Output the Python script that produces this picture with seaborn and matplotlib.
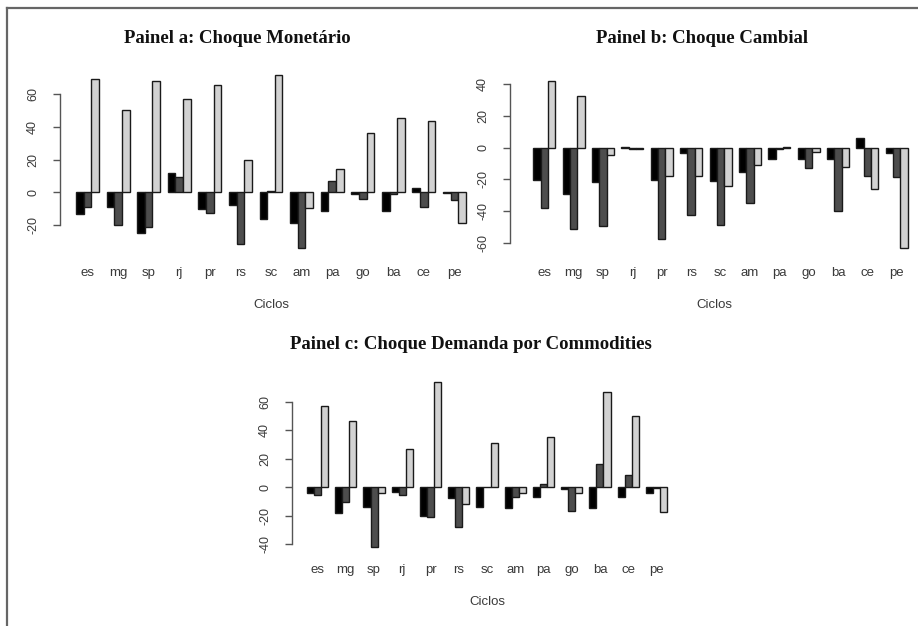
import matplotlib
matplotlib.use("Agg")
import matplotlib.pyplot as plt
import seaborn as sns
import pandas as pd
from matplotlib.lines import Line2D

estados = ["es", "mg", "sp", "rj", "pr", "rs", "sc", "am", "pa", "go", "ba", "ce", "pe"]
series = ["s1", "s2", "s3"]

# Painel a: Choque Monetário
a_s1 = [-13.3, -8.8, -24.7, 11.8, -10.2, -7.5, -16.3, -18.6, -11.4, -1.0, -11.4, 2.7, -0.7]
a_s2 = [-8.8, -20.0, -21.4, 9.2, -12.9, -31.6, 0.8, -34.3, 7.1, -4.0, -1.0, -8.8, -4.9]
a_s3 = [69.4, 50.4, 68.2, 57.3, 65.5, 20.0, 72.0, -9.4, 14.3, 36.0, 45.5, 43.5, -19.0]

# Painel b: Choque Cambial
b_s1 = [-20.4, -29.5, -21.7, 0.5, -20.4, -3.6, -20.8, -15.2, -7.2, -6.9, -7.4, 6.1, -3.2]
b_s2 = [-37.9, -51.6, -49.5, -1.0, -57.3, -42.7, -49.0, -35.2, -1.0, -13.0, -40.0, -17.7, -18.3]
b_s3 = [42.3, 32.8, -4.6, -1.0, -18.1, -18.1, -24.0, -10.7, 0.3, -2.9, -12.4, -26.3, -63.2]

# Painel c: Choque Demanda por Commodities
c_s1 = [-4.2, -18.2, -13.8, -3.5, -20.3, -7.2, -13.8, -14.7, -6.5, -1.5, -14.3, -6.5, -4.0]
c_s2 = [-5.1, -10.0, -41.6, -5.6, -20.6, -27.6, 0.5, -6.5, 2.3, -16.4, 16.1, 8.6, -0.3]
c_s3 = [56.8, 46.7, -3.7, 26.9, 73.6, -11.7, 31.3, -3.7, 35.5, -3.7, 66.6, 50.0, -17.0]

titulos = ["Painel a: Choque Monetário", "Painel b: Choque Cambial",
           "Painel c: Choque Demanda por Commodities"]
yticks_a = [-20, 0, 20, 40, 60]
yticks_b = [-60, -40, -20, 0, 20, 40]
yticks_c = [-40, -20, 0, 20, 40, 60]

cores = ["#000000", "#4d4d4d", "#d2d2d2"]

W, H = 918, 626
fig = plt.figure(figsize=(W / 100, H / 100), dpi=100)
fig.patch.set_facecolor("white")


def rect(left, right, top, bottom):
    return [left / W, 1 - bottom / H, (right - left) / W, (bottom - top) / H]


def long_df(s1, s2, s3):
    rows = []
    for nome, vals in zip(series, [s1, s2, s3]):
        for e, v in zip(estados, vals):
            rows.append({"estado": e, "serie": nome, "valor": v})
    return pd.DataFrame(rows)


txt_col = "#3a3a3a"
tick_font = "Liberation Sans"


def painel(pos, df, xlim, ylim, yticks, titulo, title_x, title_pad):
    ax = fig.add_axes(pos)
    sns.barplot(data=df, x="estado", y="valor", hue="serie", order=estados,
                hue_order=series, palette=cores, width=0.75, gap=0,
                errorbar=None, edgecolor="#1a1a1a", linewidth=1.0,
                legend=False, ax=ax)
    ax.set_facecolor("white")
    ax.set_xlim(*xlim)
    ax.set_ylim(*ylim)
    for s in ["top", "right", "bottom"]:
        ax.spines[s].set_visible(False)
    ax.spines["left"].set_bounds(min(yticks), max(yticks))
    ax.spines["left"].set_color("#555555")
    ax.spines["left"].set_linewidth(1.0)
    ax.set_yticks(yticks)
    ax.set_yticklabels([str(t) for t in yticks], rotation=90, va="center",
                       fontsize=9, color=txt_col, family=tick_font)
    ax.tick_params(axis="y", length=5, width=1.0, color="#555555", pad=10)
    ax.tick_params(axis="x", length=0, pad=8.8, labelsize=9.5, labelcolor=txt_col)
    for lab in ax.get_xticklabels():
        lab.set_family(tick_font)
    ax.set_xlabel("Ciclos", fontsize=9.5, color=txt_col, family=tick_font, labelpad=14)
    ax.set_ylabel("")
    ax.set_title(titulo, fontsize=13.5, fontweight="bold", family="Liberation Serif",
                 color="#111111", pad=title_pad, x=title_x)
    return ax


# Painel a
painel(rect(60, 482, 65, 255), long_df(a_s1, a_s2, a_s3),
       (-0.899, 12.899), (-(255 - 192.3) / 1.635, (192.3 - 65) / 1.635),
       yticks_a, titulos[0], 0.419, 16)

# Painel b
painel(rect(510, 918, 65, 255), long_df(b_s1, b_s2, b_s3),
       (-1.169, 12.725), (-(255 - 147.7) / 1.585, (147.7 - 65) / 1.585),
       yticks_b, titulos[1], 0.471, 16)

# Painel c
painel(rect(292, 682, 375, 552), long_df(c_s1, c_s2, c_s3),
       (-0.906, 12.906), (-(552 - 487.3) / 1.427, (487.3 - 375) / 1.427),
       yticks_c, titulos[2], 0.459, 18.5)

# moldura da figura
fig.add_artist(Line2D([7 / W, 7 / W], [0, 1 - 7.5 / H], transform=fig.transFigure,
                      color="#666666", linewidth=1.6))
fig.add_artist(Line2D([7 / W, 1], [1 - 7.5 / H, 1 - 7.5 / H], transform=fig.transFigure,
                      color="#666666", linewidth=1.6))

fig.savefig("out.png", dpi=100, facecolor="white")
